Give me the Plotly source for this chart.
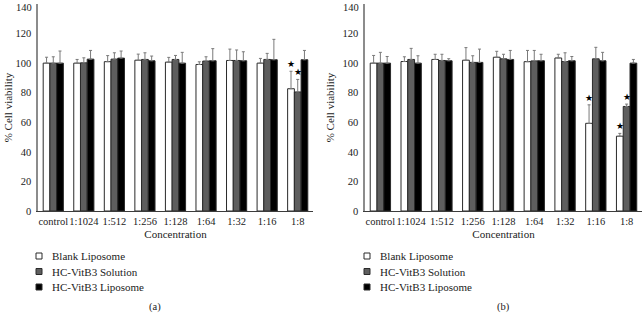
import plotly.graph_objects as go

categories = ["control", "1:1024", "1:512", "1:256", "1:128", "1:64", "1:32", "1:16", "1:8"]
series_names = ["Blank Liposome", "HC-VitB3 Solution", "HC-VitB3 Liposome"]
y_ticks = [0, 20, 40, 60, 80, 100, 120, 140]

# Panel (a)
a_blank = [100, 100, 101, 102, 100.7, 99.1, 101.8, 100, 82.7]
a_blank_err = [4, 2.5, 4.1, 4.1, 3.2, 1.8, 7.7, 3.2, 11.8]
a_sol = [100, 100.2, 102.7, 102.5, 102.5, 101.4, 101.8, 102.5, 80.5]
a_sol_err = [4.3, 3.4, 4.3, 4.5, 2.7, 2.9, 7.1, 4.1, 8.5]
a_lip = [100, 102.7, 103.4, 101.6, 100, 101.6, 101.6, 102.3, 102.3]
a_lip_err = [8.2, 5.9, 4.8, 3.2, 7.3, 8.2, 6.1, 13.8, 6.3]
a_stars = [(8, 0), (8, 1)]  # (category index, series index)

# Panel (b)
b_blank = [100, 101.1, 102.5, 102, 104, 101, 103.5, 59.3, 50.6]
b_blank_err = [5.2, 3.2, 3.5, 8.5, 4, 7.6, 2.5, 12.5, 1.9]
b_sol = [100, 102.5, 101.8, 100.5, 102.9, 101.5, 101.1, 102.9, 70.7]
b_sol_err = [7.3, 7.5, 4.2, 4.5, 3.1, 7.1, 5.9, 7.8, 1.6]
b_lip = [100, 100, 101.6, 100.5, 102.5, 101.6, 101.6, 101.6, 100]
b_lip_err = [4.5, 5, 1.4, 9, 6.1, 4.4, 2.9, 5.7, 2.5]
b_stars = [(7, 0), (8, 0), (8, 1)]

fills = ["#ffffff", "#5e5e5e", "#000000"]
outline = "#2a2a2a"
err_color = "#7a7a7a"
FONT = "Liberation Serif, Times New Roman, serif"

W, H = 642, 314
ML, MR, MT, MB = 38, 0, 4, 103
PW, PH = W - ML - MR, H - MT - MB

def px_x(px):
    return (px - ML) / PW

def px_y(py):
    return (H - MB - py) / PH

fig = go.Figure()

panels = [
    ("x", "y", [a_blank, a_sol, a_lip], [a_blank_err, a_sol_err, a_lip_err], a_stars),
    ("x2", "y2", [b_blank, b_sol, b_lip], [b_blank_err, b_sol_err, b_lip_err], b_stars),
]

for xa, ya, vals, errs, stars in panels:
    for i, name in enumerate(series_names):
        fig.add_trace(go.Bar(
            x=categories, y=vals[i], name=name, xaxis=xa, yaxis=ya,
            marker=dict(color=fills[i], line=dict(color=outline, width=1)),
            error_y=dict(type="data", symmetric=False, array=errs[i],
                         arrayminus=[0] * len(errs[i]), color=err_color,
                         thickness=1, width=1.5),
            showlegend=False, hoverinfo="skip",
        ))
    bar_px = 6.7
    for ci, si in stars:
        fig.add_annotation(
            x=categories[ci], y=vals[si][ci] + errs[si][ci], xref=xa, yref=ya,
            text="★", showarrow=False, yanchor="bottom", yshift=0,
            xshift=(si - 1) * bar_px, font=dict(size=9, color="#000000", family="DejaVu Sans"),
        )

dom_a = [0, px_x(313)]
dom_b = [px_x(365), 1.0]

axis_common = dict(
    type="category", showgrid=False, ticks="", showline=True, linecolor="#3c3c3c",
    linewidth=1, tickangle=0, tickfont=dict(family=FONT, size=10.5, color="#222222"),
)
yaxis_common = dict(
    range=[0, 140], tickvals=y_ticks, showgrid=False, zeroline=False, showline=True,
    linecolor="#8c8c8c", linewidth=1.5, ticks="outside", ticklen=3, tickcolor="rgba(0,0,0,0)",
    tickfont=dict(family=FONT, size=10.5, color="#222222"),
)

fig.update_layout(
    width=W, height=H, margin=dict(l=ML, r=MR, t=MT, b=MB),
    plot_bgcolor="white", paper_bgcolor="white",
    barmode="group", bargap=0.34, bargroupgap=0,
    font=dict(family=FONT, size=11, color="#222222"),
    xaxis=dict(domain=dom_a, anchor="y", **axis_common,
               title=dict(text="Concentration", standoff=4, font=dict(family=FONT, size=11))),
    xaxis2=dict(domain=dom_b, anchor="y2", **axis_common,
                title=dict(text="Concentration", standoff=4, font=dict(family=FONT, size=11))),
    yaxis=dict(domain=[0, 1], anchor="x", **yaxis_common,
               title=dict(text="% Cell viability", standoff=1, font=dict(family=FONT, size=11))),
    yaxis2=dict(domain=[0, 1], anchor="x2", **yaxis_common,
                title=dict(text="% Cell viability", standoff=6, font=dict(family=FONT, size=11))),
    showlegend=False,
)

# Manual legends (small square keys as in the reference)
legend_rows_py = [256, 271.5, 287]
for sq_left, text_left in [(36, 50), (364, 378)]:
    for i, name in enumerate(series_names):
        cy = legend_rows_py[i]
        fig.add_shape(type="rect", xref="paper", yref="paper",
                      x0=px_x(sq_left), x1=px_x(sq_left + 6),
                      y0=px_y(cy + 3), y1=px_y(cy - 3),
                      fillcolor=fills[i], line=dict(color=outline, width=1))
        fig.add_annotation(x=px_x(text_left), y=px_y(cy), xref="paper", yref="paper",
                           text=name, showarrow=False, xanchor="left", yanchor="middle",
                           font=dict(family=FONT, size=11, color="#222222"))

for label, cx in [("(a)", 155), ("(b)", 503)]:
    fig.add_annotation(x=px_x(cx), y=px_y(307), xref="paper", yref="paper",
                       text=label, showarrow=False, xanchor="center", yanchor="middle",
                       font=dict(family=FONT, size=10.5, color="#222222"))

# "140" top tick label drawn as axis-referenced text so it is not dropped at the edge
for xa_dom, ya in [("x domain", "y"), ("x2 domain", "y2")]:
    fig.add_annotation(x=0, y=140, xref=xa_dom, yref=ya, text="140", showarrow=False,
                       xanchor="right", yanchor="top", xshift=-4, yshift=4,
                       font=dict(family=FONT, size=10.5, color="#222222"))

fig.write_html("out.html", config={"displayModeBar": False},
               post_script="document.body.style.margin='0';document.body.style.overflow='hidden';")
